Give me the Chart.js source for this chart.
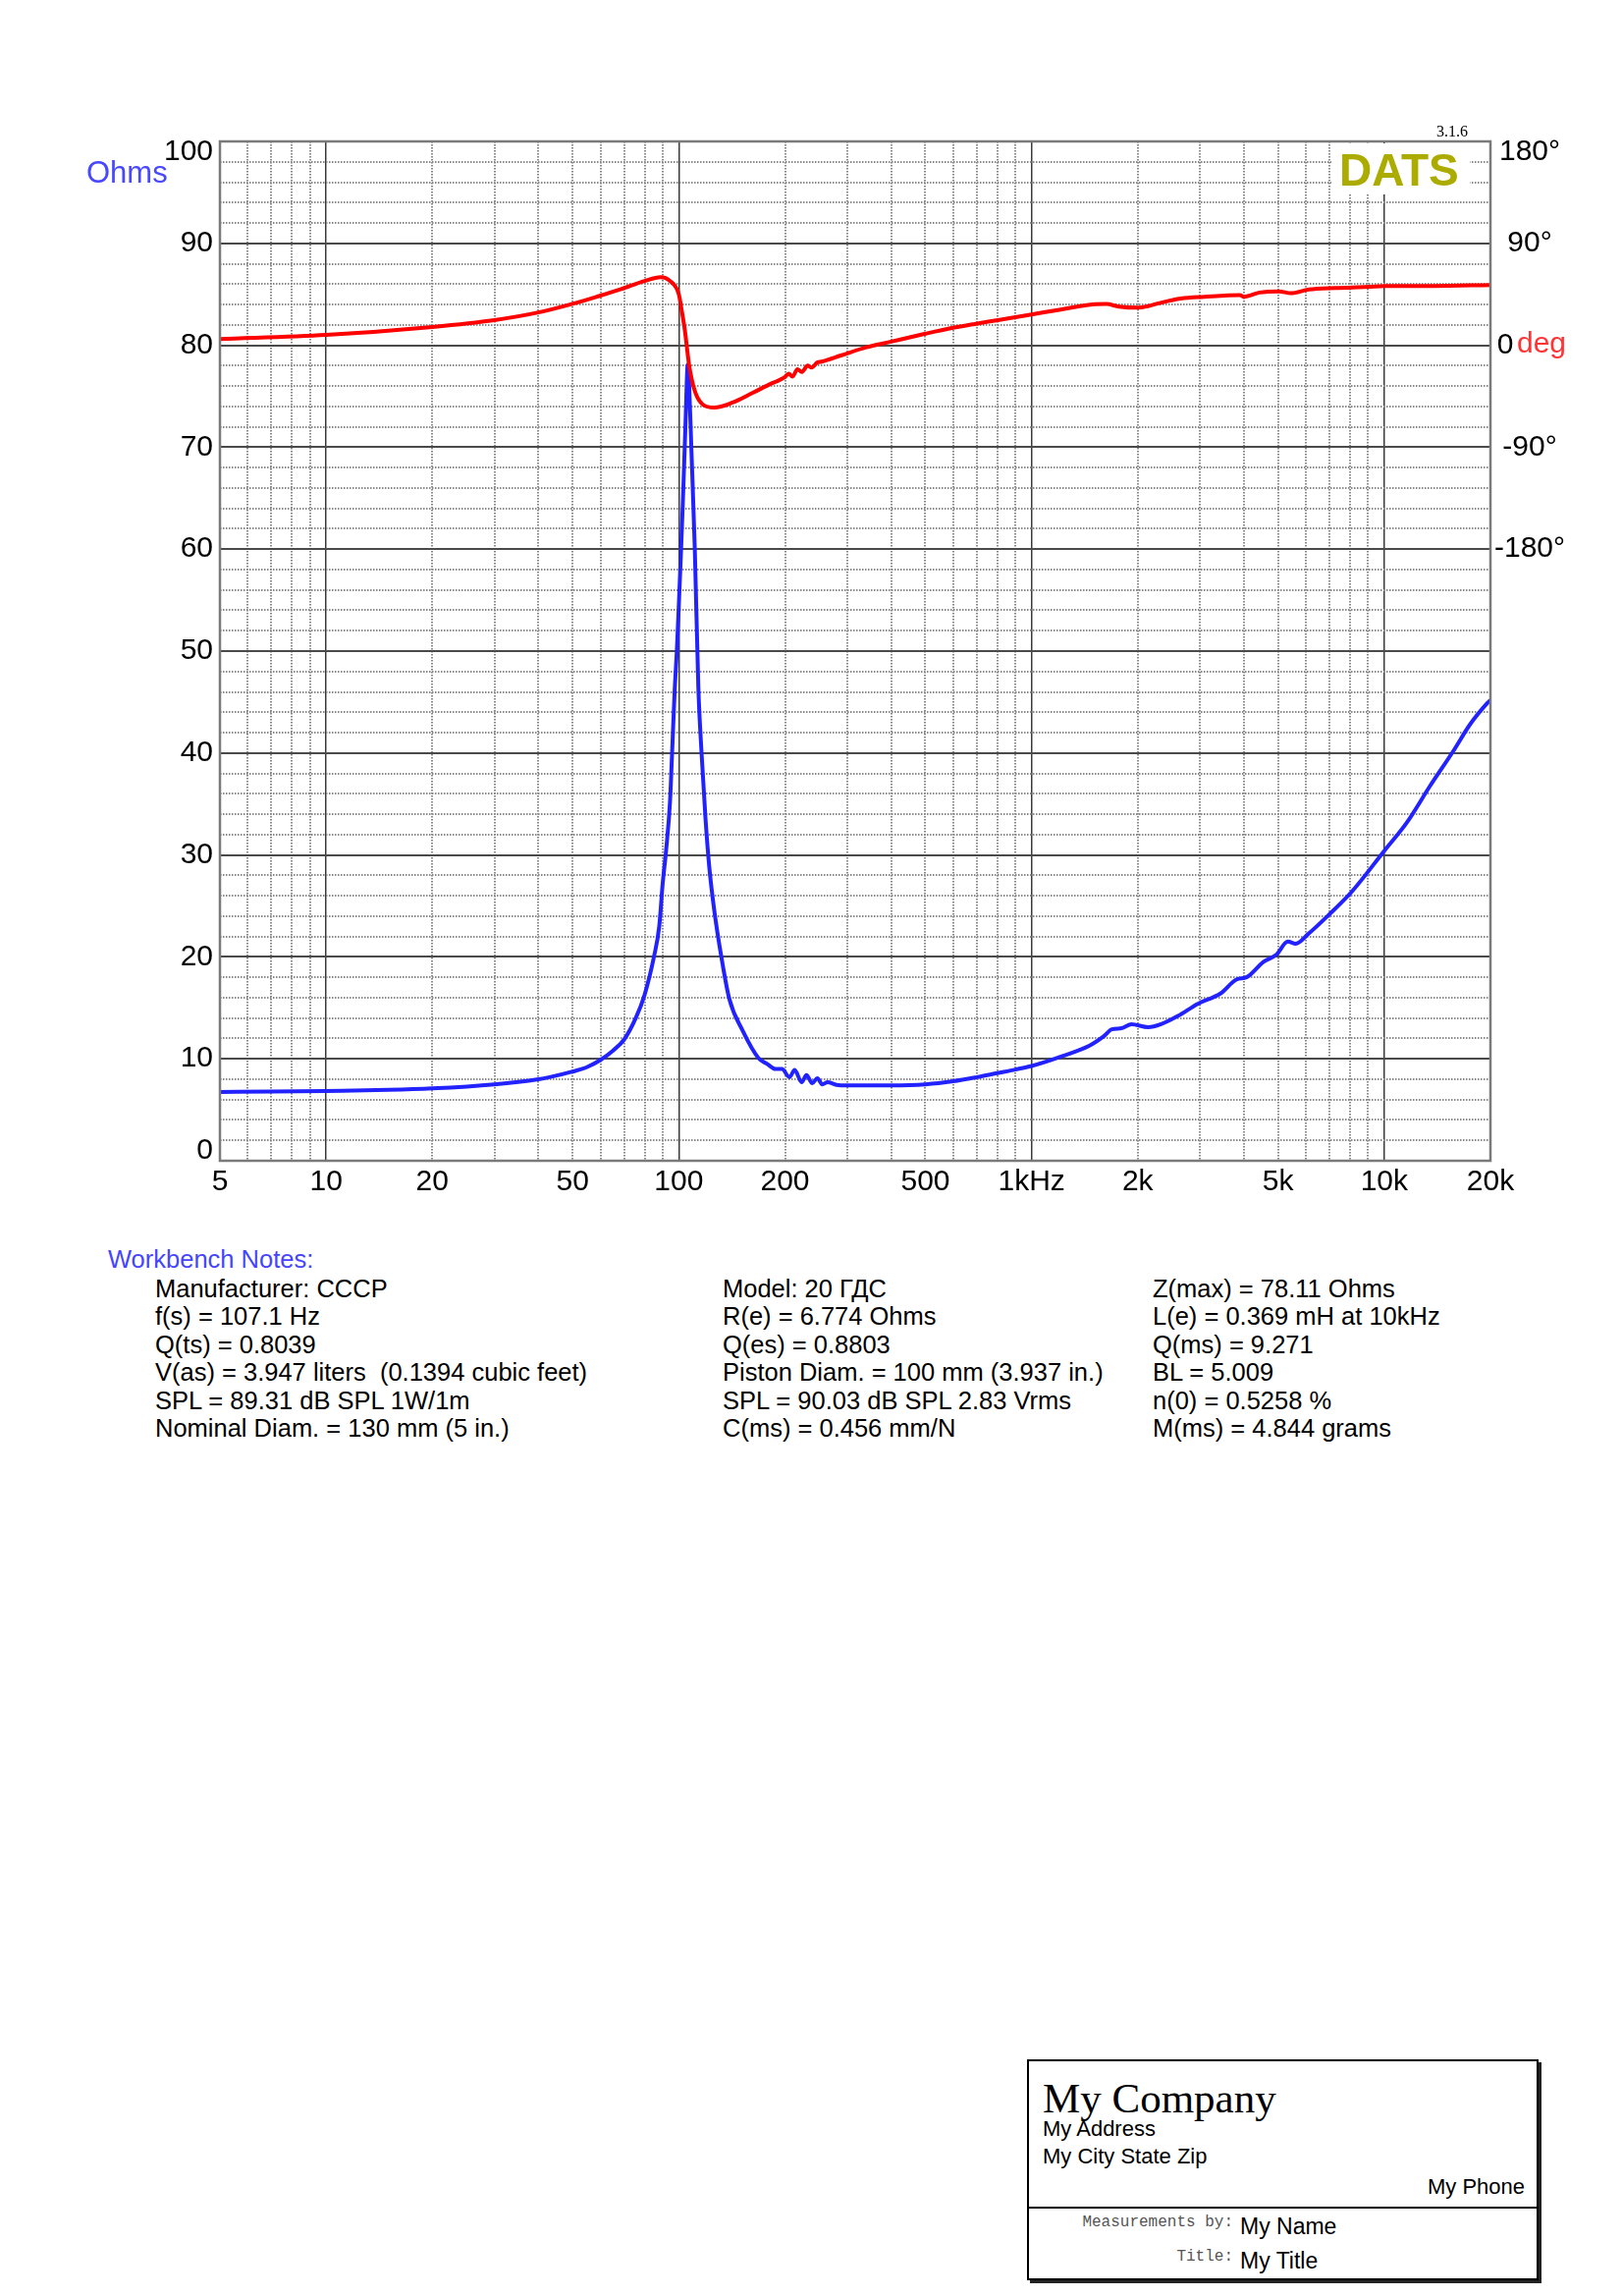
<!DOCTYPE html>
<html>
<head>
<meta charset="utf-8">
<script src="https://cdn.jsdelivr.net/npm/chart.js@4.4.1/dist/chart.umd.min.js"></script>
<style>
  html, body { margin: 0; padding: 0; background: #fff; }
  body { width: 1652px; height: 2338px; position: relative; overflow: hidden; }
  #wrap { position: absolute; left: 0; top: 0; width: 1652px; height: 1250px; }
  .t { position: absolute; white-space: pre; line-height: 1; color: #000; }
  #datsBg { position: absolute; left: 1356px; top: 146px; width: 141px; height: 52px; background: #fff; }
  #box { position: absolute; left: 1046px; top: 2097px; width: 517px; height: 221px; border: 2px solid #000; box-shadow: 3px 3px 0 #222; }
  #boxLine { position: absolute; left: 1046px; top: 2247px; width: 521px; height: 2px; background: #000; }
</style>
</head>
<body>
<div id="wrap"><canvas id="canvas1"></canvas></div>
<div id="datsBg"></div>
<div id="box"></div>
<div id="boxLine"></div>
<script>
// impedance curve (Hz, Ohms)
var freqZ = [5, 7, 10, 15, 20, 30, 40, 43, 50, 55, 60, 65, 70, 75.5, 80, 85, 88, 90, 92, 94.4,
  95.7, 97.4, 98.7, 100, 101.5, 103, 104.5, 106, 107, 108.6, 111, 113.6, 116, 119, 122, 126, 132, 139, 152, 168,
  178, 188, 196, 206, 213, 223, 230, 239, 247, 255, 264, 280, 300, 350, 400, 500, 600, 700, 800, 900,
  1000, 1230, 1460, 1600, 1690, 1800, 1920, 2140, 2330, 2600, 2960, 3430, 3820, 4070, 4540, 4940, 5330, 5610, 6110, 6950,
  8090, 10000, 11600, 13500, 15700, 17500, 19600, 20000];
var ohms = [6.75, 6.78, 6.85, 6.95, 7.1, 7.5, 8.0, 8.2, 8.75, 9.2, 9.9, 10.8, 11.9, 14.0, 16.3, 20.0, 23.0, 27.2, 30.4, 35.2,
  40.0, 46.4, 50.0, 54.5, 60.0, 66.0, 72.5, 78.1, 76.0, 69.6, 60.0, 46.4, 40.0, 33.6, 28.8, 24.6, 20.0, 15.9, 12.7, 10.1,
  9.5, 9.0, 9.0, 8.2, 8.9, 7.7, 8.4, 7.6, 8.1, 7.5, 7.7, 7.45, 7.4, 7.4, 7.4, 7.5, 7.8, 8.2, 8.6, 8.95,
  9.3, 10.3, 11.3, 12.2, 12.9, 13.0, 13.4, 13.1, 13.4, 14.2, 15.4, 16.4, 17.8, 18.0, 19.5, 20.2, 21.5, 21.3, 22.3, 24.1,
  26.4, 30.4, 33.2, 36.8, 40.2, 42.8, 44.9, 45.2];

// phase curve (Hz, degrees)
var freqP = [5, 10, 20, 30, 40, 50, 59, 68.6, 80, 88.7, 94.4, 100, 102, 104, 107, 111, 117, 126, 142, 162,
  184, 192, 200, 205, 210, 217, 223, 232, 238, 247, 254, 288, 340, 397, 497, 594, 689, 803, 1000, 1210,
  1490, 1630, 1770, 2010, 2140, 2290, 2650, 3090, 3900, 4000, 4430, 5030, 5430, 6110, 7260, 9000, 10000, 13800, 20000];
var phase = [5.6, 9.2, 16.2, 22.2, 29, 36.6, 43.2, 49.6, 56.8, 60.2, 56.8, 45, 30, 13.4, -18, -40.4, -52.4, -55, -50.6, -42,
  -33.4, -31, -28, -25, -27.6, -21.2, -23.6, -18, -19.6, -15.2, -14.4, -9, -1.8, 3, 10, 15.2, 18.8, 22.2, 27.2, 31.6,
  36, 36.4, 34.2, 33.2, 34.6, 37, 41.2, 42.8, 44.4, 42.8, 46.6, 47.6, 46, 49.2, 50.6, 51.6, 52.4, 52.4, 53.2];

// axis ticks
var gridFreqs = [5, 6, 7, 8, 9, 10, 20, 30, 40, 50, 60, 70, 80, 90, 100, 200, 300, 400, 500, 600, 700, 800, 900,
  1000, 2000, 3000, 4000, 5000, 6000, 7000, 8000, 9000, 10000, 20000];
var majorFreqs = [10, 100, 1000, 10000];
var freqLabels = {5: '5', 10: '10', 20: '20', 50: '50', 100: '100', 200: '200', 500: '500',
  1000: '1kHz', 2000: '2k', 5000: '5k', 10000: '10k', 20000: '20k'};
var phaseTicks = [-180, -90, 0, 90, 180];
var phaseLabels = {'-180': '-180°', '-90': '-90°', '0': '0      ', '90': '90°', '180': '180°'};

var SANS = '"Liberation Sans", Arial, Helvetica, sans-serif';
var SERIF = '"Liberation Serif", "Times New Roman", serif';
var MONO = '"Liberation Mono", "Courier New", monospace';

function isMajorF(v) { return majorFreqs.indexOf(v) >= 0; }
function isMajorO(v) { return Math.round(v) % 10 === 0; }

function points(xs, ys) {
  var out = [];
  xs.forEach((x, i) => { out.push({x: x, y: ys[i]}); });
  return out;
}

// grey frame round the plot area
var frame = {
  id: 'frame',
  afterDraw: function(chart) {
    var a = chart.chartArea, c = chart.ctx;
    c.save();
    c.strokeStyle = '#7a7a7a';
    c.lineWidth = 2.5;
    c.strokeRect(a.left, a.top, a.right - a.left, a.bottom - a.top);
    c.restore();
  }
};

var chart = new Chart(document.getElementById('canvas1'), {
  type: 'line',
  data: {
    datasets: [
      {
        label: 'Phase',
        data: points(freqP, phase),
        yAxisID: 'y2',
        borderColor: '#ff0000',
        borderWidth: 4,
        pointRadius: 0,
        cubicInterpolationMode: 'monotone',
        fill: false
      },
      {
        label: 'Impedance',
        data: points(freqZ, ohms),
        yAxisID: 'y',
        borderColor: '#2222ff',
        borderWidth: 4,
        pointRadius: 0,
        cubicInterpolationMode: 'monotone',
        fill: false
      }
    ]
  },
  options: {
    responsive: true,
    maintainAspectRatio: false,
    animation: false,
    layout: { padding: { top: 144, left: 0, right: 0, bottom: 0 } },
    plugins: { legend: { display: false }, tooltip: { enabled: false } },
    scales: {
      x: {
        type: 'logarithmic',
        min: 5,
        max: 20000,
        afterBuildTicks: function(s) { s.ticks = gridFreqs.map(v => ({value: v})); },
        afterFit: function(s) { s.height = 68; },
        ticks: {
          autoSkip: false, maxRotation: 0, minRotation: 0, padding: 4, color: '#000',
          font: { family: SANS, size: 30 },
          callback: function(v) { return freqLabels[v] || ''; }
        },
        grid: {
          drawTicks: false,
          color: ctx => (ctx.tick && isMajorF(ctx.tick.value)) ? '#3a3a3a' : '#8a8a8a',
          lineWidth: ctx => (ctx.tick && isMajorF(ctx.tick.value)) ? 1.5 : 2
        },
        border: {
          display: false,
          dash: ctx => (ctx.tick && !isMajorF(ctx.tick.value)) ? [1.5, 1.5] : []
        }
      },
      y: {
        position: 'left',
        min: 0,
        max: 100,
        afterFit: function(s) { s.width = 224; },
        ticks: {
          stepSize: 2, autoSkip: false, padding: 7, color: '#000',
          font: { family: SANS, size: 30, lineHeight: 0.7 },
          callback: function(v) {
            if (v === 100) return ['', '100'];
            if (v === 0) return ['0', ''];
            return isMajorO(v) ? String(v) : '';
          }
        },
        grid: {
          drawTicks: false,
          color: ctx => (ctx.tick && isMajorO(ctx.tick.value)) ? '#4a4a4a' : '#8a8a8a',
          lineWidth: 2
        },
        border: {
          display: false,
          dash: ctx => (ctx.tick && !isMajorO(ctx.tick.value)) ? [1.5, 1.5] : []
        }
      },
      y2: {
        position: 'right',
        min: -720,
        max: 180,
        afterBuildTicks: function(s) { s.ticks = phaseTicks.map(v => ({value: v})); },
        afterFit: function(s) { s.width = 134; },
        ticks: {
          autoSkip: false, crossAlign: 'center', padding: 4, color: '#000',
          font: { family: SANS, size: 30, lineHeight: 0.7 },
          callback: function(v) {
            if (v === 180) return ['', phaseLabels['180']];
            return phaseLabels[String(v)];
          }
        },
        grid: { drawOnChartArea: false, drawTicks: false },
        border: { display: false }
      }
    }
  },
  plugins: [frame]
});

// text round the chart, placed by baseline
function put(txt, x, base, size, fam, opts) {
  opts = opts || {};
  var k = fam === SERIF ? 0.8375 : (fam === MONO ? 0.7665 : 0.8465);
  var el = document.createElement('div');
  el.className = 't';
  el.textContent = txt;
  el.style.fontFamily = fam;
  el.style.fontSize = size + 'px';
  el.style.top = (base - k * size) + 'px';
  if (opts.right) el.style.right = (1652 - x) + 'px';
  else el.style.left = x + 'px';
  if (opts.color) el.style.color = opts.color;
  if (opts.bold) el.style.fontWeight = 'bold';
  document.body.appendChild(el);
  return el;
}

put('Ohms', 88, 186, 31, SANS, {color: '#4848ff'});
put('deg', 1545, 359, 30, SANS, {color: '#ff3333'});
put('3.1.6', 1463, 139, 16, SERIF);
put('DATS', 1364, 189, 46, SANS, {color: '#abab00', bold: true});

// workbench notes
var noteRows = [1322, 1350, 1379, 1407, 1436, 1464];
var notesCol1 = ['Manufacturer: CCCP', 'f(s) = 107.1 Hz', 'Q(ts) = 0.8039',
  'V(as) = 3.947 liters  (0.1394 cubic feet)', 'SPL = 89.31 dB SPL 1W/1m', 'Nominal Diam. = 130 mm (5 in.)'];
var notesCol2 = ['Model: 20 ГДС', 'R(e) = 6.774 Ohms', 'Q(es) = 0.8803',
  'Piston Diam. = 100 mm (3.937 in.)', 'SPL = 90.03 dB SPL 2.83 Vrms', 'C(ms) = 0.456 mm/N'];
var notesCol3 = ['Z(max) = 78.11 Ohms', 'L(e) = 0.369 mH at 10kHz', 'Q(ms) = 9.271',
  'BL = 5.009', 'n(0) = 0.5258 %', 'M(ms) = 4.844 grams'];

put('Workbench Notes:', 110, 1292, 25.5, SANS, {color: '#4545ff'});
noteRows.forEach((y, i) => {
  put(notesCol1[i], 158, y, 25.5, SANS);
  put(notesCol2[i], 736, y, 25.5, SANS);
  put(notesCol3[i], 1174, y, 25.5, SANS);
});

// title block
put('My Company', 1062, 2151, 43, SERIF);
put('My Address', 1062, 2176, 22, SANS);
put('My City State Zip', 1062, 2204, 22, SANS);
put('My Phone', 1553, 2235, 22, SANS, {right: true});
put('Measurements by:', 1256, 2267, 16, MONO, {right: true, color: '#555'});
put('My Name', 1263, 2275, 23, SANS);
put('Title:', 1256, 2302, 16, MONO, {right: true, color: '#555'});
put('My Title', 1263, 2310, 23, SANS);
</script>
</body>
</html>
